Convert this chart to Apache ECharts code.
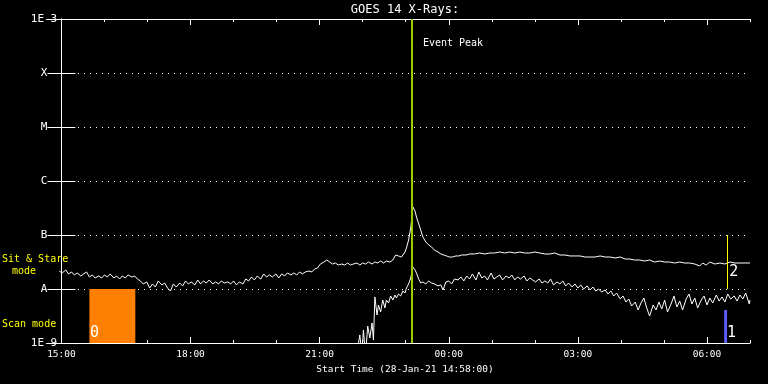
<!DOCTYPE html>
<html><head><meta charset="utf-8">
<script src="https://cdn.jsdelivr.net/npm/echarts@6/dist/echarts.min.js"></script>
<style>html,body{margin:0;padding:0;background:#000}#c{width:768px;height:384px}</style>
</head><body><div id="c"></div><script>
// time = minutes after 15:00 on 28-Jan-21 ; flux in W/m^2
const longFlux = [
[-3,2.15e-8],[1,1.98e-8],[6,2.25e-8],[10,1.90e-8],[14,2.07e-8],[18,1.82e-8],[22,1.98e-8],[27,1.74e-8],[31,1.90e-8],[35,2.07e-8],
[39,1.67e-8],[43,1.82e-8],[47,1.60e-8],[52,1.74e-8],[56,1.60e-8],[60,1.82e-8],[64,1.67e-8],[68,1.90e-8],[73,1.60e-8],[77,1.74e-8],
[81,1.53e-8],[85,1.74e-8],[89,1.60e-8],[93,1.82e-8],[98,1.67e-8],[102,1.74e-8],[106,1.53e-8],[110,1.41e-8],[114,1.24e-8],[119,1.35e-8],
[123,1.04e-8],[127,1.24e-8],[131,1.09e-8],[135,1.41e-8],[140,1.19e-8],[144,1.29e-8],[148,1.04e-8],[152,9.18e-9],[156,1.24e-8],[160,1.09e-8],
[165,1.29e-8],[169,1.14e-8],[173,1.41e-8],[177,1.24e-8],[181,1.35e-8],[186,1.19e-8],[190,1.47e-8],[194,1.24e-8],[198,1.41e-8],[202,1.29e-8],
[206,1.47e-8],[211,1.24e-8],[215,1.35e-8],[219,1.24e-8],[223,1.41e-8],[227,1.29e-8],[232,1.35e-8],[236,1.24e-8],[240,1.41e-8],[244,1.19e-8],
[248,1.35e-8],[253,1.24e-8],[257,1.53e-8],[261,1.41e-8],[265,1.67e-8],[269,1.47e-8],[273,1.74e-8],[278,1.53e-8],[282,1.90e-8],[286,1.67e-8],
[290,1.82e-8],[294,1.67e-8],[299,1.90e-8],[303,1.60e-8],[307,1.90e-8],[311,1.74e-8],[315,1.98e-8],[320,1.82e-8],[324,1.98e-8],[328,1.82e-8],
[332,2.07e-8],[336,1.90e-8],[340,2.07e-8],[345,2.15e-8],[349,2.07e-8],[353,2.35e-8],[357,2.45e-8],[361,2.90e-8],[366,3.16e-8],[370,3.44e-8],
[374,3.16e-8],[378,2.90e-8],[382,3.03e-8],[386,2.78e-8],[391,2.90e-8],[395,2.78e-8],[399,3.03e-8],[403,2.78e-8],[407,2.90e-8],[412,3.03e-8],
[416,2.78e-8],[420,3.03e-8],[424,2.90e-8],[428,3.16e-8],[433,2.90e-8],[437,3.16e-8],[441,3.03e-8],[445,3.30e-8],[449,3.03e-8],[453,3.30e-8],
[458,3.16e-8],[462,3.44e-8],[466,4.26e-8],[470,4.09e-8],[474,3.91e-8],[479,4.84e-8],[481,5.74e-8],[484,8.08e-8],[487,1.35e-7],[490,3.30e-7],
[493,2.78e-7],[495,2.15e-7],[500,1.35e-7],[504,9.18e-8],[508,7.42e-8],[512,6.53e-8],[516,6.0e-8],[520,5.27e-8],[525,4.84e-8],[529,4.45e-8],
[533,4.26e-8],[537,4.09e-8],[541,3.91e-8],[545,3.91e-8],[550,4.09e-8],[554,4.09e-8],[558,4.26e-8],[564,4.26e-8],[569,4.45e-8],[576,4.45e-8],
[583,4.64e-8],[590,4.45e-8],[597,4.64e-8],[604,4.64e-8],[611,4.84e-8],[618,4.64e-8],[625,4.84e-8],[632,4.64e-8],[639,4.84e-8],[646,4.64e-8],
[653,4.64e-8],[660,4.84e-8],[667,4.64e-8],[674,4.45e-8],[681,4.45e-8],[688,4.64e-8],[695,4.26e-8],[702,4.26e-8],[709,4.09e-8],[716,4.09e-8],
[723,4.09e-8],[730,3.91e-8],[737,3.91e-8],[744,3.91e-8],[751,4.09e-8],[758,3.91e-8],[765,3.91e-8],[772,3.75e-8],[779,3.91e-8],[786,3.59e-8],
[792,3.59e-8],[799,3.44e-8],[806,3.44e-8],[813,3.30e-8],[820,3.44e-8],[827,3.16e-8],[834,3.30e-8],[841,3.16e-8],[848,3.16e-8],[855,3.03e-8],
[862,3.16e-8],[869,3.03e-8],[876,3.03e-8],[883,2.90e-8],[890,2.67e-8],[894,3.03e-8],[899,2.78e-8],[904,3.16e-8],[911,2.90e-8],[918,3.03e-8],
[925,2.90e-8],[932,3.16e-8],[939,3.03e-8],[946,3.03e-8],[953,3.03e-8],[960,3.03e-8]
];
const shortFlux = [
[409,5e-10],[413,8e-10],[416,1.41e-9],[419,6e-10],[421,1.74e-9],[424,6e-10],[427,2.06e-9],[430,1.24e-9],[433,2.35e-9],[435,1.14e-9],
[437,7.11e-9],[440,3.30e-9],[442,5.05e-9],[445,3.75e-9],[448,6.25e-9],[451,4.45e-9],[453,6.25e-9],[456,5.50e-9],[459,7.42e-9],[462,6.25e-9],
[465,7.74e-9],[467,6.81e-9],[470,8.08e-9],[473,7.42e-9],[476,9.18e-9],[479,8.43e-9],[481,1.04e-8],[484,1.24e-8],[487,1.60e-8],[490,2.55e-8],
[493,2.25e-8],[495,1.98e-8],[498,1.53e-8],[501,1.29e-8],[504,1.35e-8],[508,1.24e-8],[512,1.41e-8],[516,1.29e-8],[520,1.24e-8],[525,1.14e-8],
[529,1.19e-8],[532,9.58e-9],[536,1.35e-8],[540,1.41e-8],[544,1.24e-8],[548,1.53e-8],[553,1.47e-8],[557,1.67e-8],[561,1.41e-8],[565,1.74e-8],
[569,1.53e-8],[573,1.90e-8],[578,1.47e-8],[582,2.07e-8],[586,1.60e-8],[590,1.74e-8],[594,1.47e-8],[599,1.98e-8],[603,1.53e-8],[607,1.67e-8],
[611,1.82e-8],[615,1.47e-8],[620,1.74e-8],[624,1.60e-8],[628,1.82e-8],[632,1.47e-8],[636,1.67e-8],[640,1.53e-8],[645,1.74e-8],[649,1.41e-8],
[653,1.60e-8],[657,1.47e-8],[661,1.35e-8],[666,1.53e-8],[670,1.29e-8],[674,1.41e-8],[678,1.29e-8],[682,1.53e-8],[686,1.19e-8],[691,1.35e-8],
[695,1.24e-8],[699,1.41e-8],[703,1.14e-8],[707,1.29e-8],[712,1.09e-8],[716,1.24e-8],[720,1.04e-8],[724,1.19e-8],[728,1.00e-8],[733,1.14e-8],
[737,9.58e-9],[741,1.09e-8],[745,9.18e-9],[749,1.00e-8],[753,8.80e-9],[758,9.58e-9],[762,8.08e-9],[766,9.18e-9],[770,7.42e-9],[774,8.43e-9],
[779,6.53e-9],[783,7.42e-9],[787,5.74e-9],[791,6.53e-9],[795,4.84e-9],[800,5.74e-9],[804,4.09e-9],[808,5.50e-9],[812,6.81e-9],[816,4.45e-9],
[820,3.16e-9],[825,5.05e-9],[829,4.09e-9],[833,5.74e-9],[837,4.26e-9],[841,6.25e-9],[845,3.75e-9],[850,5.27e-9],[854,7.42e-9],[858,4.64e-9],
[862,5.99e-9],[866,4.09e-9],[871,6.53e-9],[875,8.08e-9],[879,5.27e-9],[883,6.81e-9],[887,4.45e-9],[892,6.25e-9],[896,7.42e-9],[900,5.05e-9],
[904,6.81e-9],[908,5.50e-9],[913,7.74e-9],[917,5.99e-9],[921,7.11e-9],[925,5.74e-9],[929,8.08e-9],[933,6.53e-9],[938,7.42e-9],[942,5.99e-9],
[946,7.74e-9],[950,6.53e-9],[954,8.43e-9],[959,5.27e-9],[960,6.25e-9]
];
const yTickLabels = {'-9':'1E-9','-8':'A','-7':'B','-6':'C','-5':'M','-4':'X','-3':'1E-3'};
const hourTicks = [0,60,120,180,240,300,360,420,480,540,600,660,720,780,840,900,960];
const majorTicks = [0,180,360,540,720,900];
const eventPeakTime = 488;
const scanBlock = [39,103,1e-9,1e-8];      // start, end, low, high
const blueBar = [924,928,1e-9,4.09e-9];
const sitStareMark = [928,1e-8,1e-7];
const blockLabels = [['0',40,1.53e-9],['1',928,1.53e-9],['2',931,2.07e-8]];

const mono = 'DejaVu Sans Mono';
const fmtTime = m => { const h = (15 + Math.floor(m/60)) % 24; const mm = m % 60; return String(h).padStart(2,'0')+':'+String(mm).padStart(2,'0'); };
const white = '#ffffff';
const xCommon = {type:'value', min:-2, max:960, splitLine:{show:false}};
const chart = echarts.init(document.getElementById('c'));
chart.setOption({
  backgroundColor:'#000',
  animation:false,
  grid:{left:60, right:18, top:19, bottom:41},
  xAxis:[
    Object.assign({}, xCommon, {position:'bottom',
      axisLine:{show:true, lineStyle:{color:white, width:1}},
      axisTick:{show:true, inside:true, length:6, customValues:majorTicks, lineStyle:{color:white}},
      axisLabel:{show:true, customValues:majorTicks, formatter:v=>fmtTime(v), color:white, fontFamily:mono, fontSize:9.5, margin:7},
      name:'Start Time (28-Jan-21 14:58:00)', nameLocation:'middle', nameGap:20,
      nameTextStyle:{color:white, fontFamily:mono, fontSize:9.5}}),
    Object.assign({}, xCommon, {position:'bottom', axisLine:{show:false},
      axisTick:{show:true, inside:true, length:3, customValues:hourTicks, lineStyle:{color:white}}, axisLabel:{show:false}}),
    Object.assign({}, xCommon, {position:'top', axisLine:{show:true, lineStyle:{color:white}},
      axisTick:{show:true, inside:true, length:6, customValues:majorTicks, lineStyle:{color:white}}, axisLabel:{show:false}}),
    Object.assign({}, xCommon, {position:'top', axisLine:{show:false},
      axisTick:{show:true, inside:true, length:3, customValues:hourTicks, lineStyle:{color:white}}, axisLabel:{show:false}})
  ],
  yAxis:[
    {type:'log', logBase:10, min:1e-9, max:1e-3, interval:1, position:'left',
      axisLine:{show:true, lineStyle:{color:white}},
      axisTick:{show:true, inside:true, length:14, lineStyle:{color:white}},
      minorTick:{show:false},
      axisLabel:{color:white, fontFamily:mono, fontSize:11, margin:16, align:'center',
        formatter:v=>yTickLabels[String(Math.round(Math.log10(v)))] || ''},
      splitLine:{show:true, lineStyle:{color:white, type:[1,5], width:1}}},
    {type:'log', logBase:10, min:1e-9, max:1e-3, interval:1, position:'right',
      axisLine:{show:true, lineStyle:{color:white}},
      axisTick:{show:true, inside:true, length:14, lineStyle:{color:white}},
      axisLabel:{show:false}, splitLine:{show:false}}
  ],
  series:[
    {type:'line', name:'1.0-8.0 A', data:longFlux, showSymbol:false, symbol:'none',
      lineStyle:{color:white, width:1}, silent:true, z:3,
      markArea:{silent:true, data:[
        [{coord:[scanBlock[0],scanBlock[2]], itemStyle:{color:'#ff8000', opacity:1}},{coord:[scanBlock[1],scanBlock[3]]}],
        [{coord:[blueBar[0],blueBar[2]], itemStyle:{color:'#5f5cff', opacity:1}},{coord:[blueBar[1],blueBar[3]]}]
      ]},
      markLine:{silent:true, symbol:'none', label:{show:false}, data:[
        {xAxis:eventPeakTime, lineStyle:{color:'#9acd00', width:2, type:'solid'}},
        [{coord:[sitStareMark[0],sitStareMark[1]], lineStyle:{color:'#ffff00', width:1, type:'solid'}},{coord:[sitStareMark[0],sitStareMark[2]]}]
      ]},
      markPoint:{silent:true, symbol:'circle', symbolSize:0, data:[
        {coord:[504,3.6e-4], label:{show:true, formatter:'Event Peak', position:'right', distance:0, color:white, fontFamily:mono, fontSize:10}}
      ].concat(blockLabels.map(b=>({coord:[b[1],b[2]], label:{show:true, formatter:b[0], position:'right', distance:0, color:white, fontFamily:mono, fontSize:15}})))}
    },
    {type:'line', name:'0.5-4.0 A', data:shortFlux, showSymbol:false, symbol:'none',
      lineStyle:{color:white, width:1}, silent:true, z:3}
  ],
  graphic:[
    {type:'text', x:405, y:10, style:{text:'GOES 14 X-Rays:', fill:white, font:'12px "DejaVu Sans Mono"', textAlign:'center', textVerticalAlign:'middle'}},
    {type:'text', x:2, y:259, style:{text:'Sit & Stare', fill:'#ffff00', font:'10px "DejaVu Sans Mono"', textAlign:'left', textVerticalAlign:'middle'}},
    {type:'text', x:24, y:271, style:{text:'mode', fill:'#ffff00', font:'10px "DejaVu Sans Mono"', textAlign:'center', textVerticalAlign:'middle'}},
    {type:'text', x:2, y:324, style:{text:'Scan mode', fill:'#ffff00', font:'10px "DejaVu Sans Mono"', textAlign:'left', textVerticalAlign:'middle'}}
  ]
});
</script></body></html>
